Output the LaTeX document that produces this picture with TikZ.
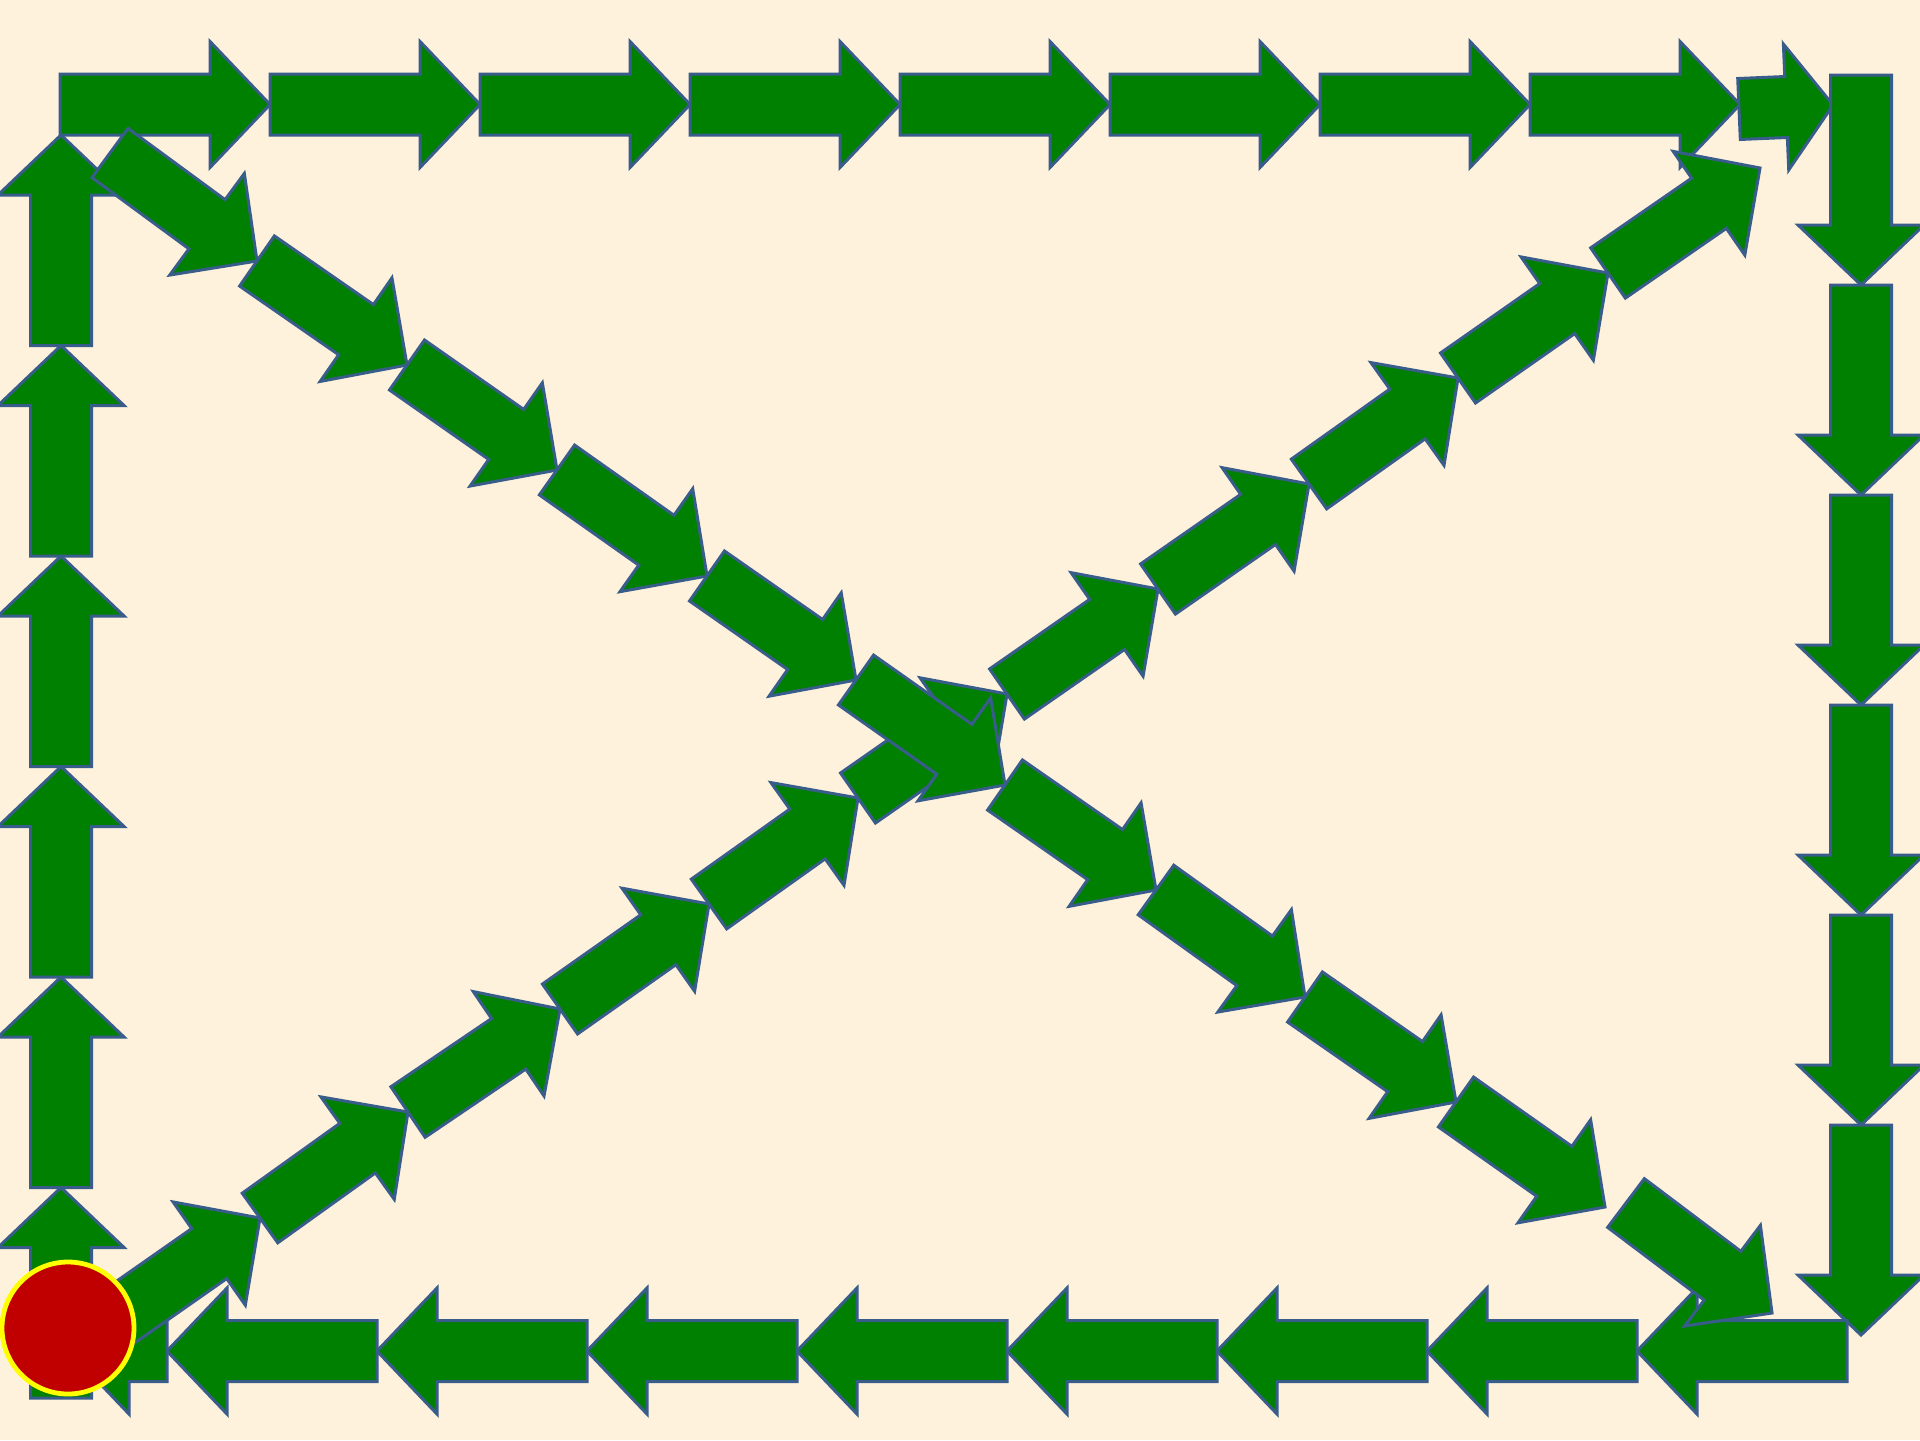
\documentclass[tikz,border=0pt]{standalone}
\usetikzlibrary{calc}
\definecolor{bg}{RGB}{254,242,220}
\definecolor{arrgreen}{RGB}{0,128,0}
\definecolor{arredge}{RGB}{56,93,138}
\definecolor{dotred}{RGB}{192,0,0}
\definecolor{dotyellow}{RGB}{255,255,0}
\tikzset{
  arr/.style={fill=arrgreen, draw=arredge, line width=1.5pt, line join=miter},
  startdot/.style={circle, fill=dotred, draw=dotyellow, line width=2.4pt, minimum size=66pt, inner sep=0pt}
}
\def\SW{15.25pt}
\def\HW{31.5pt}
% #1 name, #2 start, #3 end, #4 head length
\newcommand\barrow[4]{%
  \coordinate (#1-s) at #2;
  \coordinate (#1-e) at #3;
  \coordinate (#1-b) at ($(#1-e)!#4!(#1-s)$);
  \filldraw[arr] ($(#1-s)!\SW!90:(#1-e)$) -- ($(#1-b)!\SW!-90:(#1-s)$) -- ($(#1-b)!\HW!-90:(#1-s)$) -- (#1-e)
     -- ($(#1-b)!\HW!90:(#1-s)$) -- ($(#1-b)!\SW!90:(#1-s)$) -- ($(#1-s)!\SW!-90:(#1-e)$) -- cycle;
}
\begin{document}
\begin{tikzpicture}[x=0.5pt,y=-0.5pt]
\fill[bg] (0,0) rectangle (1920,1440);
\useasboundingbox (0,0) rectangle (1920,1440);
% left column, upward
\foreach \k in {0,...,5}
  \barrow{L\k}{(61,{1398-210.5*\k})}{(61,{1187.5-210.5*\k})}{30pt};
% top row, rightward
\foreach \k in {0,...,7}
  \barrow{T\k}{({60+210*\k},104.5)}{({270+210*\k},104.5)}{30pt};
\barrow{T8}{(1739,109)}{(1833,105)}{23.5pt}
% right column, downward
\foreach \k in {0,...,5}
  \barrow{R\k}{(1861,{75+210*\k})}{(1861,{285+210*\k})}{30pt};
% bottom row, leftward
\foreach \k in {0,...,7}
  \barrow{B\k}{({1847-210*\k},1351)}{({1637-210*\k},1351)}{30pt};
\barrow{B8}{(167,1351)}{(69,1351)}{30pt}
% diagonal bottom-left to top-right
\foreach \x/\y [count=\i from 0] in {110/1323,260/1218,408/1112,560/1009,709/904,858/798,1007/694,1158/589,1309/484,1458/378,1608/273,1760/168}
  \coordinate (db\i) at (\x,\y);
\foreach \i in {1,...,11}{
  \pgfmathtruncatemacro\j{\i-1}
  \barrow{DB\i}{(db\j)}{(db\i)}{31pt}
}
% diagonal top-left to bottom-right
\foreach \x/\y [count=\i from 0] in {110/153,257/261,407/365,557/470,707/576,856/680,1005/785,1156/890,1305/997,1456/1102,1605/1207}
  \coordinate (da\i) at (\x,\y);
\foreach \i in {1,...,10}{
  \pgfmathtruncatemacro\j{\i-1}
  \barrow{DA\i}{(da\j)}{(da\i)}{31pt}
}
\barrow{DA11}{(1626,1203)}{(1772,1313)}{31pt}
% start marker
\node[startdot] (start) at (68,1328) {};
\end{tikzpicture}
\end{document}
